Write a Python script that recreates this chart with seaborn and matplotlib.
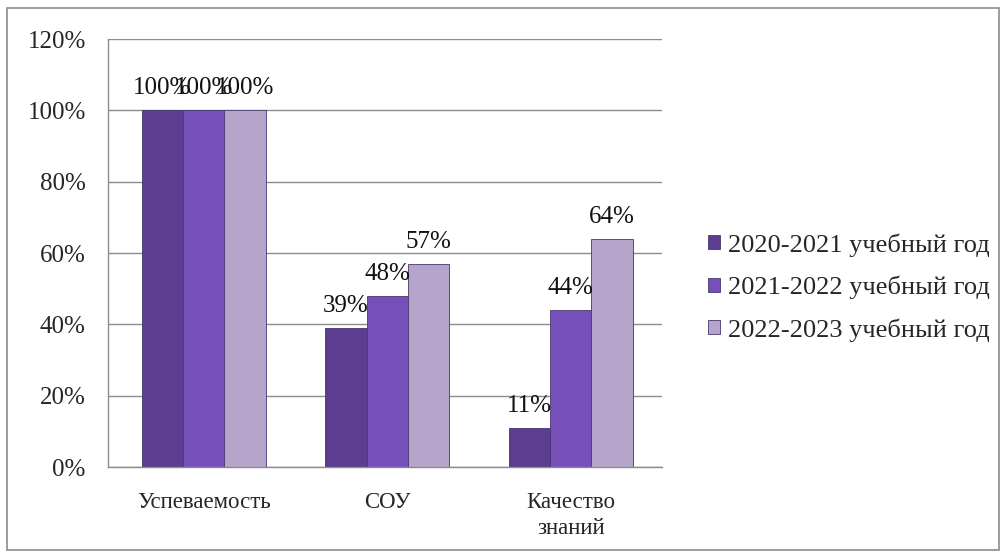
"""Успеваемость, СОУ и качество знаний по учебным годам"""
import matplotlib
matplotlib.use("Agg")
import matplotlib.pyplot as plt
import pandas as pd
import seaborn as sns
from matplotlib.patches import Rectangle

categories = ["Успеваемость", "СОУ", "Качество\nзнаний"]
years = ["2020-2021 учебный год", "2021-2022 учебный год", "2022-2023 учебный год"]
values = {
    "2020-2021 учебный год": [100, 39, 11],
    "2021-2022 учебный год": [100, 48, 44],
    "2022-2023 учебный год": [100, 57, 64],
}
colors = ["#5c3d8f", "#7650b8", "#b5a5ca"]

rows = []
for y in years:
    for c, v in zip(categories, values[y]):
        rows.append({"cat": c, "year": y, "val": v})
df = pd.DataFrame(rows)

sns.set_style("white")
plt.rcParams["font.family"] = ["Liberation Serif", "DejaVu Serif"]

fig = plt.figure(figsize=(10.06, 5.54), dpi=100)
ax = fig.add_axes([0.1074, 0.157, 0.551, 0.7726])

sns.barplot(data=df, x="cat", y="val", hue="year", palette=colors,
            width=0.676, gap=0, edgecolor="#4a3570", linewidth=0.6,
            saturation=1, ax=ax)

for cont in ax.containers:
    ax.bar_label(cont, labels=[f"{int(v)}%" for v in cont.datavalues],
                 padding=8, fontsize=18, color="#111111")

ax.set_ylim(0, 120)
ax.set_xlim(-0.522, 2.473)
ax.set_yticks(range(0, 121, 20))
ax.set_yticklabels([f"{t}%" for t in range(0, 121, 20)], fontsize=18)
ax.tick_params(axis="x", labelsize=16.5, length=0, pad=18)
for lbl in ax.get_xticklabels():
    lbl.set_linespacing(1.3)
ax.tick_params(axis="y", length=6, color="#888888", direction="out", pad=10)
ax.set_xticks([-0.5, 0.5, 1.5, 2.5], minor=True)
ax.tick_params(axis="x", which="minor", length=6, color="#888888", direction="out")
ax.yaxis.grid(True, color="#8c8c8c", linewidth=1)
ax.set_axisbelow(True)
for s in ["top", "right"]:
    ax.spines[s].set_visible(False)
for s in ["left", "bottom"]:
    ax.spines[s].set_color("#8c8c8c")
    ax.spines[s].set_linewidth(1)
ax.set_xlabel("")
ax.set_ylabel("")

leg = ax.legend(loc="center left", bbox_to_anchor=(1.083, 0.42), frameon=False,
                fontsize=19, handlelength=0.45, handleheight=0.45,
                handletextpad=0.3, labelspacing=0.72, borderpad=0, borderaxespad=0)

fig.patches.append(Rectangle((0.007, 0.007), 0.986, 0.978, transform=fig.transFigure,
                             fill=False, edgecolor="#8c8c8c", linewidth=1.2))

fig.savefig("out.png", dpi=100)
